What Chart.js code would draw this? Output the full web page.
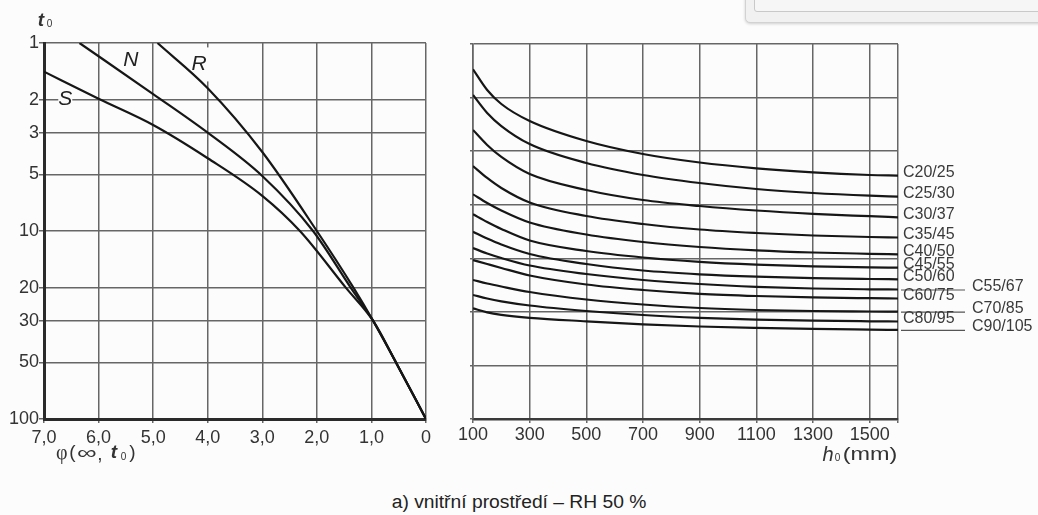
<!DOCTYPE html>
<html><head><meta charset="utf-8">
<script src="https://cdn.jsdelivr.net/npm/chart.js@4.4.1/dist/chart.umd.min.js"></script>
<style>
html,body{margin:0;padding:0;background:#fcfcfc;}
#wrap{position:relative;width:1038px;height:515px;overflow:hidden;background:#fcfcfc;}
#c1{position:absolute;left:0;top:0;}
#c2{position:absolute;left:450px;top:0;}
#title{position:absolute;left:0;width:1038px;top:492px;height:22px;line-height:22px;text-align:center;}
#title span{display:inline-block;font:18px "Liberation Sans",Arial,sans-serif;color:#222;transform:scaleX(1.07);}
.boxA{position:absolute;left:745px;top:-12px;width:320px;height:33px;background:#f1f1f1;border:1px solid #d2d2d2;border-radius:5px;box-shadow:0 1px 3px rgba(0,0,0,0.18);}
.boxB{position:absolute;left:754px;top:-12px;width:310px;height:22px;background:#f6f6f6;border:1px solid #c9c9c9;border-radius:3px;}
</style></head><body>
<div id="wrap">
<div class="boxA"></div><div class="boxB"></div>
<canvas id="c1" width="450" height="480"></canvas>
<canvas id="c2" width="588" height="480"></canvas>
<div id="title"><span>a) vnitřní prostředí – RH 50 %</span></div>
</div>
<script>
// ---- left panel: t0 (log) versus creep coefficient phi(inf, t0)
const phiAxisTicks = [0, 1, 2, 3, 4, 5, 6, 7];
const t0AxisTicks = [1, 2, 3, 5, 10, 20, 30, 50, 100];
const curveNames = ['S', 'N', 'R'];
const phiS = [7.0, 6.0, 5.0, 4.0, 3.0, 2.31, 1.47, 0.97, 0.55, 0];
const t0S  = [1.42, 1.98, 2.73, 4.1, 6.5, 10, 20, 30, 50, 100];
const phiN = [6.35, 5.0, 4.0, 3.0, 2.07, 1.38, 0.97, 0.55, 0];
const t0N  = [1.0, 1.87, 3.0, 5.1, 10, 20, 30, 50, 100];
const phiR = [4.92, 4.0, 3.0, 2.0, 1.33, 0.97, 0.55, 0];
const t0R  = [1.0, 1.74, 3.8, 10, 20, 30, 50, 100];

// ---- right panel: phi versus h0 (mm) for concrete classes
const h0AxisTicks = [100, 300, 500, 700, 900, 1100, 1300, 1500, 1600];
const phiAxisTicksRight = [0, 1, 2, 3, 4, 5, 6, 7];
const h0Values = [100, 150, 200, 300, 500, 700, 900, 1100, 1300, 1500, 1600];
const classNames = ['C20/25','C25/30','C30/37','C35/45','C40/50','C45/55','C50/60','C55/67','C60/75','C70/85','C80/95','C90/105'];
const phiC20_25  = [6.528, 6.141, 5.880, 5.563, 5.189, 4.947, 4.788, 4.680, 4.605, 4.555, 4.542];
const phiC25_30  = [6.048, 5.712, 5.469, 5.133, 4.779, 4.555, 4.405, 4.293, 4.219, 4.168, 4.150];
const phiC30_37  = [5.395, 5.115, 4.891, 4.573, 4.275, 4.088, 3.976, 3.892, 3.830, 3.786, 3.765];
const phiC35_45  = [4.723, 4.499, 4.312, 4.041, 3.789, 3.640, 3.537, 3.472, 3.425, 3.397, 3.388];
const phiC40_50  = [4.194, 4.032, 3.892, 3.668, 3.444, 3.304, 3.211, 3.149, 3.108, 3.084, 3.074];
const phiC45_55  = [3.821, 3.677, 3.547, 3.332, 3.136, 3.015, 2.934, 2.882, 2.849, 2.830, 2.824];
const phiC50_60  = [3.496, 3.369, 3.257, 3.080, 2.893, 2.772, 2.701, 2.656, 2.628, 2.613, 2.608];
const phiC55_67  = [3.192, 3.089, 3.005, 2.865, 2.707, 2.595, 2.520, 2.468, 2.436, 2.421, 2.417];
const phiC60_75  = [2.968, 2.893, 2.819, 2.679, 2.511, 2.408, 2.337, 2.296, 2.270, 2.255, 2.249];
const phiC70_85  = [2.595, 2.529, 2.473, 2.371, 2.231, 2.137, 2.072, 2.035, 2.016, 2.007, 2.003];
const phiC80_95  = [2.315, 2.249, 2.197, 2.119, 2.016, 1.941, 1.889, 1.855, 1.835, 1.824, 1.820];
const phiC90_105 = [2.066, 1.991, 1.945, 1.889, 1.824, 1.768, 1.727, 1.701, 1.682, 1.669, 1.663];
const classSeries = [phiC20_25, phiC25_30, phiC30_37, phiC35_45, phiC40_50, phiC45_55,
                     phiC50_60, phiC55_67, phiC60_75, phiC70_85, phiC80_95, phiC90_105];
const secondColumn = ['C55/67', 'C70/85', 'C90/105'];

const FONT = '"Liberation Sans", Arial, sans-serif';
const GRID = '#666';
const INK = '#161616';
const TXT = '#333';

function drawText(ctx, txt, cx, cy, font, sx, color) {
  ctx.save();
  ctx.font = font; ctx.fillStyle = color || TXT;
  ctx.textAlign = 'center'; ctx.textBaseline = 'middle';
  ctx.translate(cx, cy); ctx.scale(sx || 1, 1);
  ctx.fillText(txt, 0, 0);
  ctx.restore();
}

function curveDataset(name, xs, ys) {
  return {
    label: name,
    data: xs.map((v, i) => ({x: v, y: ys[i]})),
    borderColor: INK, borderWidth: 2.2, pointRadius: 0,
    cubicInterpolationMode: 'monotone', fill: false
  };
}

const leftDeco = {
  id: 'leftDeco',
  beforeDatasetsDraw(chart) {
    const {ctx, scales: {x, y}} = chart;
    const anchors = {N: [5.41, 1.23, 0], R: [4.16, 1.30, 1], S: [6.61, 2.0, 2]};
    curveNames.forEach(nm => {
      const a = anchors[nm];
      const px = x.getPixelForValue(a[0]), py = y.getPixelForValue(a[1]);
      ctx.save();
      ctx.fillStyle = '#fcfcfc';
      if (a[2] === 1) ctx.fillRect(px - 11, py - 17, 22, 34);
      if (a[2] === 2) ctx.fillRect(px - 7, py - 7, 14, 14);
      ctx.restore();
      drawText(ctx, nm, px, py, 'italic 21px ' + FONT, 1, '#222');
    });
  },
  afterDraw(chart) {
    const ctx = chart.ctx;
    drawText(ctx, 't', 41, 21, 'italic bold 19px ' + FONT, 1, '#333');
    drawText(ctx, '0', 49.5, 24.5, '10px ' + FONT, 1, '#333');
    const yy = 453;
    drawText(ctx, 'φ', 61.7, yy + 1, '20px "Liberation Serif", serif', 1, '#333');
    drawText(ctx, '(', 72.5, yy, '19px ' + FONT, 1, '#333');
    drawText(ctx, '∞', 86.7, yy + 1, '19px ' + FONT, 1.45, '#333');
    drawText(ctx, ',', 100, yy + 2, '19px ' + FONT, 1, '#333');
    drawText(ctx, 't', 114, yy, 'italic bold 19px ' + FONT, 1, '#333');
    drawText(ctx, '0', 123.5, yy + 4, '10px ' + FONT, 1, '#333');
    drawText(ctx, ')', 132.5, yy, '19px ' + FONT, 1, '#333');
  }
};

new Chart(document.getElementById('c1'), {
  type: 'line',
  data: {datasets: [curveDataset('S', phiS, t0S), curveDataset('N', phiN, t0N), curveDataset('R', phiR, t0R)]},
  options: {
    responsive: false, animation: false, devicePixelRatio: 1,
    layout: {padding: {left: 0, right: 24, top: 43, bottom: 0}},
    plugins: {legend: {display: false}, tooltip: {enabled: false}, title: {display: false}},
    scales: {
      x: {
        type: 'linear', reverse: true, min: 0, max: 7,
        afterBuildTicks: s => { s.ticks = phiAxisTicks.map(v => ({value: v})); },
        afterFit: s => { s.height = 61; },
        grid: {color: GRID, lineWidth: 1.5, tickLength: 4},
        border: {color: '#2a2a2a', width: 3},
        ticks: {font: {family: FONT, size: 18}, color: TXT, padding: 4, maxRotation: 0, autoSkip: false,
                callback: v => v === 0 ? '0' : Number(v).toFixed(1).replace('.', ',')}
      },
      y: {
        type: 'logarithmic', reverse: true, min: 1, max: 100,
        afterBuildTicks: s => { s.ticks = t0AxisTicks.map(v => ({value: v})); },
        afterFit: s => { s.width = 44; },
        grid: {color: GRID, lineWidth: 1.5, tickLength: 5},
        border: {color: '#2a2a2a', width: 3},
        ticks: {font: {family: FONT, size: 18}, color: TXT, padding: 0, autoSkip: false,
                callback: v => String(v)}
      }
    }
  },
  plugins: [leftDeco]
});

const rightDeco = {
  id: 'rightDeco',
  afterDatasetsDraw(chart) {
    const {ctx, chartArea} = chart;
    chart.data.datasets.forEach((ds, i) => {
      const meta = chart.getDatasetMeta(i);
      const yEnd = meta.data[meta.data.length - 1].y;
      ctx.save();
      ctx.font = '16px ' + FONT; ctx.fillStyle = '#3a3a3a';
      ctx.textBaseline = 'middle'; ctx.textAlign = 'left';
      if (secondColumn.includes(ds.label)) {
        ctx.strokeStyle = '#555'; ctx.lineWidth = 1.2;
        ctx.beginPath(); ctx.moveTo(chartArea.right + 3, yEnd + 0.5); ctx.lineTo(chartArea.right + 67, yEnd + 0.5); ctx.stroke();
        ctx.fillText(ds.label, chartArea.right + 74, yEnd - 3);
      } else {
        ctx.fillText(ds.label, chartArea.right + 5, yEnd - 3);
      }
      ctx.restore();
    });
    drawText(ctx, 'h', 378, 455, 'italic 20px ' + FONT, 1, '#333');
    drawText(ctx, '0', 387.5, 458.5, '10px ' + FONT, 1, '#333');
    drawText(ctx, '(mm)', 420, 455, '18px ' + FONT, 1.3, '#333');
  }
};

new Chart(document.getElementById('c2'), {
  type: 'line',
  data: {datasets: classNames.map((nm, i) => curveDataset(nm, h0Values, classSeries[i]))},
  options: {
    responsive: false, animation: false, devicePixelRatio: 1,
    layout: {padding: {left: 0, right: 140, top: 44, bottom: 0}},
    plugins: {legend: {display: false}, tooltip: {enabled: false}, title: {display: false}},
    scales: {
      x: {
        type: 'linear', min: 100, max: 1600,
        afterBuildTicks: s => { s.ticks = h0AxisTicks.map(v => ({value: v})); },
        afterFit: s => { s.height = 61; },
        grid: {color: GRID, lineWidth: 1.5, tickLength: 4},
        border: {color: '#3a3a3a', width: 2.4},
        ticks: {font: {family: FONT, size: 18}, color: TXT, padding: 1, maxRotation: 0, autoSkip: false,
                callback: v => v === 1600 ? '' : String(v)}
      },
      y: {
        type: 'linear', min: 0, max: 7,
        afterBuildTicks: s => { s.ticks = phiAxisTicksRight.map(v => ({value: v})); },
        afterFit: s => { s.width = 23; },
        grid: {color: GRID, lineWidth: 1.5, tickLength: 3},
        border: {color: GRID, width: 1.6},
        ticks: {display: false}
      }
    }
  },
  plugins: [rightDeco]
});
</script>
</body></html>
